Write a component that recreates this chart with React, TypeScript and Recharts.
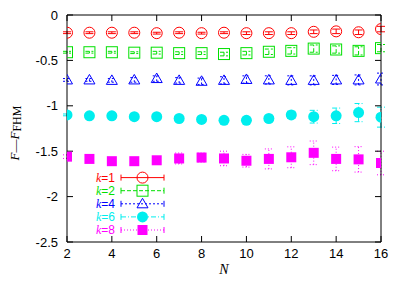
import { ErrorBar, Scatter, ScatterChart, XAxis, YAxis } from "recharts";

const nValues = [2, 3, 4, 5, 6, 7, 8, 9, 10, 11, 12, 13, 14, 15, 16];

const k1Values = [-0.195, -0.195, -0.195, -0.195, -0.2, -0.195, -0.2, -0.195, -0.2, -0.2, -0.2, -0.185, -0.18, -0.19, -0.155];
const k1Errors = [0.01, 0.01, 0.01, 0.01, 0.01, 0.01, 0.01, 0.01, 0.015, 0.015, 0.015, 0.02, 0.025, 0.025, 0.03];

const k2Values = [-0.41, -0.41, -0.41, -0.415, -0.415, -0.42, -0.42, -0.43, -0.42, -0.405, -0.395, -0.37, -0.38, -0.395, -0.365];
const k2Errors = [0.01, 0.01, 0.01, 0.01, 0.015, 0.015, 0.015, 0.02, 0.02, 0.03, 0.035, 0.04, 0.04, 0.045, 0.04];

const k4Values = [-0.715, -0.715, -0.72, -0.715, -0.7, -0.72, -0.73, -0.72, -0.71, -0.715, -0.72, -0.72, -0.715, -0.715, -0.705];
const k4Errors = [0.015, 0.015, 0.02, 0.025, 0.03, 0.03, 0.035, 0.04, 0.04, 0.045, 0.05, 0.05, 0.05, 0.055, 0.065];

const k6Values = [-1.1, -1.11, -1.11, -1.12, -1.12, -1.14, -1.15, -1.16, -1.16, -1.14, -1.1, -1.12, -1.11, -1.075, -1.125];
const k6Errors = [0.01, 0.01, 0.01, 0.01, 0.01, 0.015, 0.02, 0.02, 0.02, 0.03, 0.04, 0.07, 0.085, 0.1, 0.11];

const k8Values = [-1.56, -1.585, -1.61, -1.61, -1.6, -1.58, -1.57, -1.58, -1.605, -1.585, -1.567, -1.518, -1.585, -1.59, -1.63];
const k8Errors = [0.02, 0.02, 0.02, 0.03, 0.03, 0.06, 0.05, 0.08, 0.07, 0.11, 0.115, 0.13, 0.13, 0.14, 0.13];

const xTicks = [2, 4, 6, 8, 10, 12, 14, 16];
const yTicks = [0, -0.5, -1, -1.5, -2, -2.5];

type Row = { n: number; v: number; e: number };
type Kind = "circle" | "square" | "triangle" | "dot" | "box";

const toRows = (vals: number[], errs: number[]): Row[] =>
  nValues.map((n, i) => ({ n, v: vals[i], e: errs[i] }));

const series = [
  { k: "1", color: "#ff0000", dash: undefined, kind: "circle" as Kind, data: toRows(k1Values, k1Errors) },
  { k: "2", color: "#00e000", dash: "4,2", kind: "square" as Kind, data: toRows(k2Values, k2Errors) },
  { k: "4", color: "#0000ff", dash: "2,2", kind: "triangle" as Kind, data: toRows(k4Values, k4Errors) },
  { k: "6", color: "#00eeee", dash: "5,2,1,2", kind: "dot" as Kind, data: toRows(k6Values, k6Errors) },
  { k: "8", color: "#ff00ff", dash: "1,2", kind: "box" as Kind, data: toRows(k8Values, k8Errors) },
];

const tickFont = { fontFamily: "Liberation Sans, Arial, sans-serif", fontSize: 13, fill: "#000" };

function Marker({ cx, cy, kind, color }: { cx: number; cy: number; kind: Kind; color: string }) {
  if (cx == null || cy == null) return null;
  switch (kind) {
    case "circle":
      return <circle cx={cx} cy={cy} r={5.5} fill="none" stroke={color} strokeWidth={1} />;
    case "square":
      return <rect x={cx - 5.5} y={cy - 5.5} width={11} height={11} fill="none" stroke={color} strokeWidth={1} />;
    case "triangle":
      return (
        <polygon
          points={`${cx},${cy - 5.5} ${cx - 5.5},${cy + 4} ${cx + 5.5},${cy + 4}`}
          fill="none"
          stroke={color}
          strokeWidth={1}
        />
      );
    case "dot":
      return <circle cx={cx} cy={cy} r={5.5} fill={color} />;
    default:
      return <rect x={cx - 5} y={cy - 5} width={10} height={10} fill={color} />;
  }
}

const LegendBox = () => {
  const top = 177.6;
  const step = 13.1;
  return (
    <svg width={403} height={282} style={{ position: "absolute", left: 0, top: 0, pointerEvents: "none" }}>
      {series.map((s, i) => {
        const y = top + i * step;
        return (
          <g key={s.k}>
            <text x={115} y={y + 4} textAnchor="end" fill={s.color} fontSize={12} fontFamily="Liberation Sans, Arial, sans-serif">
              <tspan fontStyle="italic" fontFamily="Liberation Serif, Times New Roman, serif">k</tspan>
              {"=" + s.k}
            </text>
            <line x1={121} x2={164} y1={y} y2={y} stroke={s.color} strokeDasharray={s.dash} />
            <line x1={121} x2={121} y1={y - 3} y2={y + 3} stroke={s.color} />
            <line x1={164} x2={164} y1={y - 3} y2={y + 3} stroke={s.color} />
            <Marker cx={142.5} cy={y} kind={s.kind} color={s.color} />
          </g>
        );
      })}
    </svg>
  );
};

const YLabel = () => (
  <text
    transform="translate(18.5,133) rotate(-90)"
    textAnchor="middle"
    fontFamily="Liberation Serif, Times New Roman, serif"
    fontSize={13}
    fill="#000"
  >
    <tspan fontStyle="italic">F</tspan>
    <tspan>—</tspan>
    <tspan fontStyle="italic">F</tspan>
    <tspan fontSize={12} dy={2}>FHM</tspan>
  </text>
);

export default function App() {
  return (
    <div style={{ position: "absolute", left: 0, top: 0, width: 403, height: 282, background: "#fff" }}>
      <ScatterChart width={403} height={282} margin={{ top: 15, right: 22, bottom: 10, left: 0 }}>
        <XAxis
          xAxisId={0}
          type="number"
          dataKey="n"
          domain={[2, 16]}
          ticks={xTicks}
          allowDataOverflow
          height={30}
          tickSize={-6}
          tickMargin={13}
          stroke="#000"
          tick={tickFont}
          label={{
            value: "N",
            position: "insideBottom",
            offset: -2,
            fontStyle: "italic",
            fontFamily: "Liberation Serif, Times New Roman, serif",
            fontSize: 14,
            fill: "#000",
          }}
        />
        <XAxis
          xAxisId="top"
          orientation="top"
          mirror
          type="number"
          dataKey="n"
          domain={[2, 16]}
          ticks={xTicks}
          allowDataOverflow
          tickSize={6}
          stroke="#000"
          tickFormatter={() => ""}
        />
        <YAxis
          yAxisId={0}
          type="number"
          dataKey="v"
          domain={[-2.5, 0]}
          ticks={yTicks}
          allowDataOverflow
          width={67}
          tickSize={-6}
          tickMargin={15}
          stroke="#000"
          tick={tickFont}
          label={{ content: () => <YLabel /> }}
        />
        <YAxis
          yAxisId="right"
          orientation="right"
          mirror
          type="number"
          dataKey="v"
          domain={[-2.5, 0]}
          ticks={yTicks}
          allowDataOverflow
          tickSize={6}
          stroke="#000"
          tickFormatter={() => ""}
        />
        {series.map(s => (
          <Scatter
            key={s.k}
            data={s.data}
            xAxisId={0}
            yAxisId={0}
            isAnimationActive={false}
            shape={(p: any) => <Marker cx={p.cx} cy={p.cy} kind={s.kind} color={s.color} />}
          >
            <ErrorBar
              dataKey="e"
              direction="y"
              width={4}
              stroke={s.color}
              strokeWidth={1}
              strokeDasharray={s.dash}
              isAnimationActive={false}
            />
          </Scatter>
        ))}
      </ScatterChart>
      <LegendBox />
    </div>
  );
}
